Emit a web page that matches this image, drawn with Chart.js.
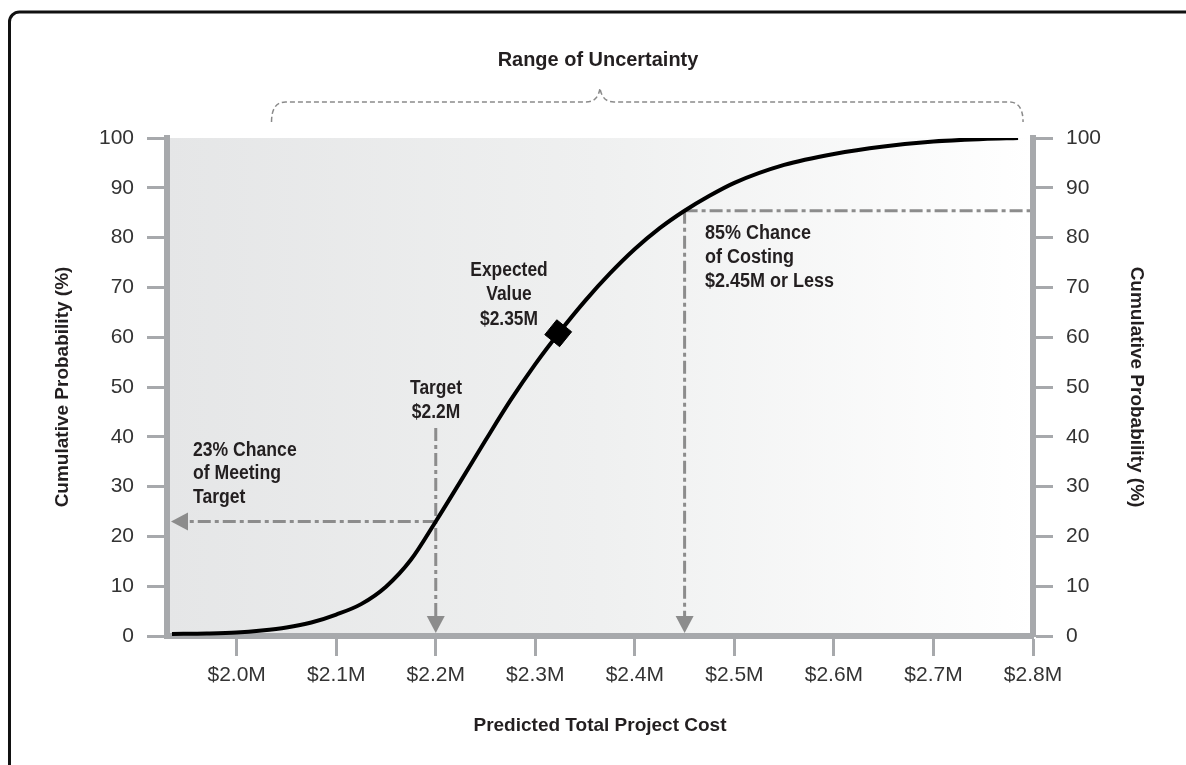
<!DOCTYPE html>
<html>
<head>
<meta charset="utf-8">
<title>Cumulative Probability of Project Cost</title>
<script src="https://cdn.jsdelivr.net/npm/chart.js@4.4.1/dist/chart.umd.min.js"></script>
<style>
  html, body { margin: 0; padding: 0; background: #fff; }
  #wrap { position: relative; width: 1186px; height: 765px; }
</style>
</head>
<body>
<div id="wrap"><canvas id="costChart"></canvas></div>
<script>
// S-curve (cost in $M, cumulative probability in %)
const costs = [1.935, 1.97, 2.0, 2.025, 2.05, 2.075, 2.1, 2.125, 2.15, 2.175, 2.2, 2.225, 2.25, 2.275, 2.3,
               2.325, 2.35, 2.375, 2.4, 2.425, 2.45, 2.475, 2.5, 2.55, 2.6, 2.65, 2.7, 2.75, 2.785];
const probs = [0.4, 0.5, 0.7, 1.1, 1.7, 2.7, 4.3, 6.4, 9.9, 15.3, 23, 31.1, 39.3, 47.3, 54.6,
               61.2, 67.3, 72.8, 77.7, 81.9, 85.4, 88.4, 91, 94.6, 96.8, 98.3, 99.3, 99.8, 100];

const xTicks = [2.0, 2.1, 2.2, 2.3, 2.4, 2.5, 2.6, 2.7, 2.8];
const yTicks = [0, 10, 20, 30, 40, 50, 60, 70, 80, 90, 100];

// marked points
const expected = { cost: 2.323, prob: 60.8 };
const target = { cost: 2.2, prob: 23 };
const p85 = { cost: 2.45, prob: 85.4 };
const rangeLow = 2.035, rangeHigh = 2.79, rangeTip = 2.365;

const GRAY = '#a7a9ac';
const GUIDE = '#8c8c8c';
const INK = '#231f20';
const SANS = "'Liberation Sans', Arial, sans-serif";

const points = costs.map((c, i) => ({ x: c, y: probs[i] }));

function arrow(ctx, x, y, dir) {
    // dir: 'down' or 'left', tip at x,y
    ctx.beginPath();
    if (dir === 'down') {
        ctx.moveTo(x, y);
        ctx.lineTo(x - 9, y - 17);
        ctx.lineTo(x + 9, y - 17);
    } else {
        ctx.moveTo(x, y);
        ctx.lineTo(x + 17, y - 9);
        ctx.lineTo(x + 17, y + 9);
    }
    ctx.closePath();
    ctx.fill();
}

// condensed bold text: squeeze horizontally
function narrowText(ctx, arr, x, y, step, sx) {
    arr.forEach((t, i) => {
        ctx.save();
        ctx.translate(x, y + i * step);
        ctx.scale(sx, 1);
        ctx.fillText(t, 0, 0);
        ctx.restore();
    });
}

const decor = {
    id: 'decor',
    beforeDraw(chart) {
        const { ctx, chartArea: a } = chart;
        ctx.save();
        // outer frame
        ctx.strokeStyle = '#111';
        ctx.lineWidth = 3;
        ctx.beginPath();
        ctx.roundRect(9.5, 12, 1300, 900, 10);
        ctx.stroke();
        // plot background
        const g = ctx.createLinearGradient(a.left, 0, a.right, 0);
        g.addColorStop(0, '#e5e6e7');
        g.addColorStop(0.5, '#eff0f0');
        g.addColorStop(1, '#ffffff');
        ctx.fillStyle = g;
        ctx.fillRect(a.left, a.top, a.right - a.left, a.bottom - a.top);
        ctx.restore();
    },
    beforeDatasetsDraw(chart) {
        const { ctx, chartArea: a, scales: { x, y } } = chart;
        ctx.save();
        ctx.strokeStyle = GUIDE;
        ctx.fillStyle = GUIDE;
        ctx.lineWidth = 3;
        ctx.setLineDash([13, 4, 4, 4]);

        const tx = x.getPixelForValue(target.cost);
        const ty = y.getPixelForValue(target.prob);
        const px = x.getPixelForValue(p85.cost);
        const py = y.getPixelForValue(p85.prob);

        ctx.beginPath();
        ctx.moveTo(tx, 428); ctx.lineTo(tx, a.bottom - 14);
        ctx.moveTo(tx, ty); ctx.lineTo(a.left + 16, ty);
        ctx.moveTo(px, py); ctx.lineTo(px, a.bottom - 14);
        ctx.moveTo(px, py); ctx.lineTo(a.right - 3, py);
        ctx.stroke();
        ctx.setLineDash([]);
        arrow(ctx, tx, a.bottom - 3, 'down');
        arrow(ctx, px, a.bottom - 3, 'down');
        arrow(ctx, a.left + 4, ty, 'left');

        // brace over range of uncertainty
        const bl = x.getPixelForValue(rangeLow);
        const br = x.getPixelForValue(rangeHigh);
        const bm = x.getPixelForValue(rangeTip);
        ctx.lineWidth = 1.5;
        ctx.strokeStyle = '#8a8a8a';
        ctx.setLineDash([5, 3]);
        ctx.beginPath();
        ctx.moveTo(bl, 122);
        ctx.quadraticCurveTo(bl, 102, bl + 14, 102);
        ctx.lineTo(bm - 14, 102);
        ctx.quadraticCurveTo(bm - 2, 102, bm, 88);
        ctx.quadraticCurveTo(bm + 2, 102, bm + 14, 102);
        ctx.lineTo(br - 14, 102);
        ctx.quadraticCurveTo(br, 102, br, 122);
        ctx.stroke();
        ctx.restore();
    },
    afterDraw(chart) {
        const { ctx } = chart;
        ctx.save();
        ctx.fillStyle = INK;
        ctx.textBaseline = 'middle';
        ctx.textAlign = 'center';
        ctx.font = `bold 21px ${SANS}`;
        narrowText(ctx, ['Range of Uncertainty'], 598, 60, 0, 0.95);
        ctx.font = `bold 20px ${SANS}`;
        narrowText(ctx, ['Expected', 'Value', '$2.35M'], 509, 270, 24.5, 0.87);
        narrowText(ctx, ['Target', '$2.2M'], 436, 388, 24, 0.87);
        ctx.textAlign = 'left';
        narrowText(ctx, ['23% Chance', 'of Meeting', 'Target'], 193, 450, 23.5, 0.88);
        narrowText(ctx, ['85% Chance', 'of Costing', '$2.45M or Less'], 705, 233, 24, 0.9);
        ctx.restore();
    }
};

const tickFont = { family: SANS, size: 21 };
const titleFont = { family: SANS, size: 19, weight: 'bold' };

function yAxis(position, width, titlePad) {
    return {
        type: 'linear',
        position: position,
        min: 0,
        max: 100,
        afterBuildTicks: s => { s.ticks = yTicks.map(v => ({ value: v })); },
        afterFit: s => { s.width = width; },
        ticks: { font: tickFont, color: '#333', padding: 13 },
        grid: { drawOnChartArea: false, tickLength: 20, tickWidth: 3, tickColor: GRAY },
        border: { display: true, color: GRAY, width: 6 },
        title: { display: true, text: 'Cumulative Probability (%)', font: titleFont, color: INK,
                 padding: { top: titlePad, bottom: 0 } }
    };
}

new Chart(document.getElementById('costChart'), {
    type: 'scatter',
    data: {
        datasets: [{
            label: 'Cumulative probability',
            data: points,
            showLine: true,
            borderColor: '#000',
            borderWidth: 4,
            pointRadius: 0,
            cubicInterpolationMode: 'monotone'
        }, {
            label: 'Expected value',
            data: [{ x: expected.cost, y: expected.prob }],
            pointStyle: 'rect',
            pointRadius: 13.5,
            pointRotation: 39,
            backgroundColor: '#000',
            borderColor: '#000'
        }]
    },
    options: {
        responsive: true,
        maintainAspectRatio: false,
        devicePixelRatio: 1,
        animation: false,
        layout: { padding: { left: 0, right: 0, top: 138, bottom: 0 } },
        plugins: { legend: { display: false }, tooltip: { enabled: false } },
        scales: {
            x: {
                type: 'linear',
                position: 'bottom',
                min: 1.93,
                max: 2.8,
                afterBuildTicks: s => { s.ticks = xTicks.map(v => ({ value: v })); },
                afterFit: s => { s.height = 129; },
                ticks: { font: tickFont, color: '#333', padding: 7, maxRotation: 0,
                         callback: v => '$' + v.toFixed(1) + 'M' },
                grid: { drawOnChartArea: false, tickLength: 20, tickWidth: 3, tickColor: GRAY },
                border: { display: true, color: GRAY, width: 6 },
                title: { display: true, text: 'Predicted Total Project Cost', font: titleFont, color: INK,
                         padding: { top: 0, bottom: 28 } }
            },
            y: yAxis('left', 167, 51),
            y2: yAxis('right', 153, 38)
        }
    },
    plugins: [decor]
});
</script>
</body>
</html>
